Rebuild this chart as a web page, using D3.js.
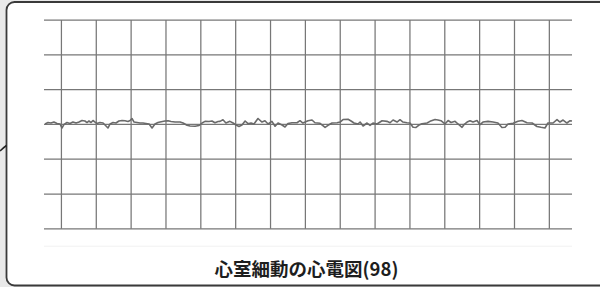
<!DOCTYPE html>
<html>
<head>
<meta charset="utf-8">
<script src="https://cdn.jsdelivr.net/npm/d3@7"></script>
<style>
  html, body { margin: 0; padding: 0; background: #e9e9e9; }
  svg { display: block; }
</style>
</head>
<body>
<div id="ecg"></div>
<script>
/* Chart title */
const title = "心室細動の心電図(98)";

/* Grid lines: one big box = 0.2 s across, 0.5 mV up */
const gridTimes = [0.1, 0.3, 0.5, 0.7, 0.9, 1.1, 1.3, 1.5, 1.7, 1.9, 2.1, 2.3, 2.5, 2.7, 2.9];
const gridMv = [-1.5, -1.0, -0.5, 0, 0.5, 1.0, 1.5];
const timeExtent = [0, 3.03];

/* The trace (time in s, voltage in mV) */
const ecgTime = [
  0.006, 0.023, 0.040, 0.057, 0.075, 0.092, 0.103, 0.115, 0.132, 0.149,
  0.166, 0.184, 0.201, 0.218, 0.235, 0.247, 0.258, 0.270, 0.281, 0.293,
  0.304, 0.321, 0.339, 0.356, 0.367, 0.379, 0.396, 0.413, 0.430, 0.448,
  0.465, 0.482, 0.494, 0.505, 0.517, 0.534, 0.551, 0.568, 0.585, 0.603,
  0.620, 0.637, 0.654, 0.666, 0.694, 0.712, 0.729, 0.752, 0.781, 0.798,
  0.821, 0.838, 0.867, 0.890, 0.907, 0.924, 0.947, 0.964, 0.981, 0.999,
  1.010, 1.027, 1.044, 1.067, 1.085, 1.102, 1.119, 1.136, 1.154, 1.171,
  1.188, 1.205, 1.228, 1.251, 1.268, 1.286, 1.308, 1.326, 1.343, 1.366,
  1.383, 1.400, 1.423, 1.452, 1.469, 1.486, 1.515, 1.538, 1.555, 1.584,
  1.613, 1.630, 1.653, 1.682, 1.699, 1.716, 1.745, 1.762, 1.779, 1.802,
  1.814, 1.831, 1.854, 1.871, 1.888, 1.911, 1.940, 1.968, 1.986, 2.003,
  2.026, 2.043, 2.060, 2.083, 2.100, 2.118, 2.135, 2.152, 2.169, 2.198,
  2.215, 2.244, 2.261, 2.278, 2.301, 2.319, 2.336, 2.359, 2.376, 2.399,
  2.410, 2.428, 2.445, 2.462, 2.485, 2.502, 2.519, 2.548, 2.577, 2.605,
  2.628, 2.646, 2.663, 2.692, 2.720, 2.743, 2.772, 2.801, 2.829, 2.852,
  2.875, 2.892, 2.921, 2.944, 2.961, 2.979, 3.001, 3.019, 3.030
];
const ecgMv = [
  0.006, 0.027, 0.020, 0.034, 0.013, 0.006, -0.052, 0.000, 0.027, 0.013,
  0.034, 0.020, 0.034, 0.056, 0.049, 0.027, 0.049, 0.027, 0.056, 0.034,
  0.013, 0.027, 0.020, -0.023, -0.052, 0.006, 0.027, 0.020, 0.049, 0.056,
  0.052, 0.042, 0.056, 0.085, 0.034, 0.027, 0.020, 0.020, 0.013, 0.006,
  -0.052, 0.006, 0.027, 0.034, 0.049, 0.053, 0.042, 0.034, 0.034, 0.020,
  -0.013, -0.023, -0.027, -0.016, 0.020, 0.044, 0.042, 0.049, 0.024, 0.042,
  0.044, 0.067, 0.020, 0.044, 0.020, -0.009, -0.030, -0.009, 0.049, 0.010,
  0.020, 0.006, 0.085, 0.034, 0.053, 0.006, 0.044, -0.027, 0.020, -0.009,
  -0.037, 0.013, 0.024, 0.024, 0.053, 0.020, 0.053, 0.063, 0.024, 0.016,
  -0.044, -0.013, 0.020, 0.024, 0.034, 0.070, 0.073, 0.049, 0.020, 0.006,
  0.034, -0.023, 0.020, -0.013, 0.020, 0.006, 0.053, 0.044, 0.024, 0.063,
  0.034, 0.067, 0.034, 0.024, 0.020, -0.042, -0.044, -0.009, 0.010, 0.020,
  0.044, 0.070, 0.063, 0.053, 0.006, 0.056, 0.027, 0.044, 0.006, -0.042,
  -0.004, 0.034, 0.053, 0.034, 0.056, -0.004, 0.034, 0.044, 0.034, 0.020,
  -0.044, -0.042, 0.006, 0.016, 0.044, 0.056, 0.024, 0.020, -0.030, -0.042,
  -0.052, 0.020, 0.020, 0.070, 0.034, 0.063, 0.020, 0.053, 0.049
];

const data = ecgTime.map((t, i) => ({ t: t, mv: ecgMv[i] }));

const width = 600, height = 287;

const svg = d3.select("#ecg")
  .append("svg")
  .attr("width", width)
  .attr("height", height)
  .attr("viewBox", [0, 0, width, height]);

/* Card with a rounded dark border */
svg.append("rect")
  .attr("x", 6.5)
  .attr("y", 2)
  .attr("width", 620)
  .attr("height", 283.5)
  .attr("rx", 8)
  .style("fill", "#fff")
  .style("stroke", "#3a3a3a")
  .style("stroke-width", 1.8);

// small mark on the left edge of the scan
svg.append("path")
  .attr("d", "M0,151 Q3,148 6.5,145.5")
  .style("fill", "none")
  .style("stroke", "#222")
  .style("stroke-width", 1.6);

/* Scales */
const xScale = d3.scaleLinear()
  .domain(timeExtent)
  .range([44, 572]);

const yScale = d3.scaleLinear()
  .domain([-1.5, 1.5])
  .range([228.8, 20]);

const grid = svg.append("g")
  .style("stroke", "#777")
  .style("stroke-width", 1.25);

grid.selectAll("line.h")
  .data(gridMv)
  .join("line")
    .attr("class", "h")
    .attr("x1", xScale(timeExtent[0]))
    .attr("x2", xScale(timeExtent[1]))
    .attr("y1", d => yScale(d))
    .attr("y2", d => yScale(d));

grid.selectAll("line.v")
  .data(gridTimes)
  .join("line")
    .attr("class", "v")
    .attr("x1", d => xScale(d))
    .attr("x2", d => xScale(d))
    .attr("y1", yScale(1.5))
    .attr("y2", yScale(-1.5));

// faint half-box line under the grid (scan ghost)
svg.append("line")
  .attr("x1", xScale(timeExtent[0]))
  .attr("x2", xScale(timeExtent[1]))
  .attr("y1", yScale(-1.75))
  .attr("y2", yScale(-1.75))
  .style("stroke", "#f1f1f1")
  .style("stroke-width", 1);

/* The ECG trace */
const line = d3.line()
  .curve(d3.curveLinear)
  .x(d => xScale(d.t))
  .y(d => yScale(d.mv));

svg.append("path")
  .datum(data)
  .attr("d", line)
  .style("fill", "none")
  .style("stroke", "#6a6a6a")
  .style("stroke-width", 1.6)
  .style("stroke-linejoin", "round");

/* Title */
svg.append("text")
  .attr("x", 306.5)
  .attr("y", 275.5)
  .style("text-anchor", "middle")
  .style("font-family", "'Noto Sans CJK JP', sans-serif")
  .style("font-weight", "bold")
  .style("font-size", "18.5px")
  .style("fill", "#1e1e1e")
  .text(title);
</script>
</body>
</html>
